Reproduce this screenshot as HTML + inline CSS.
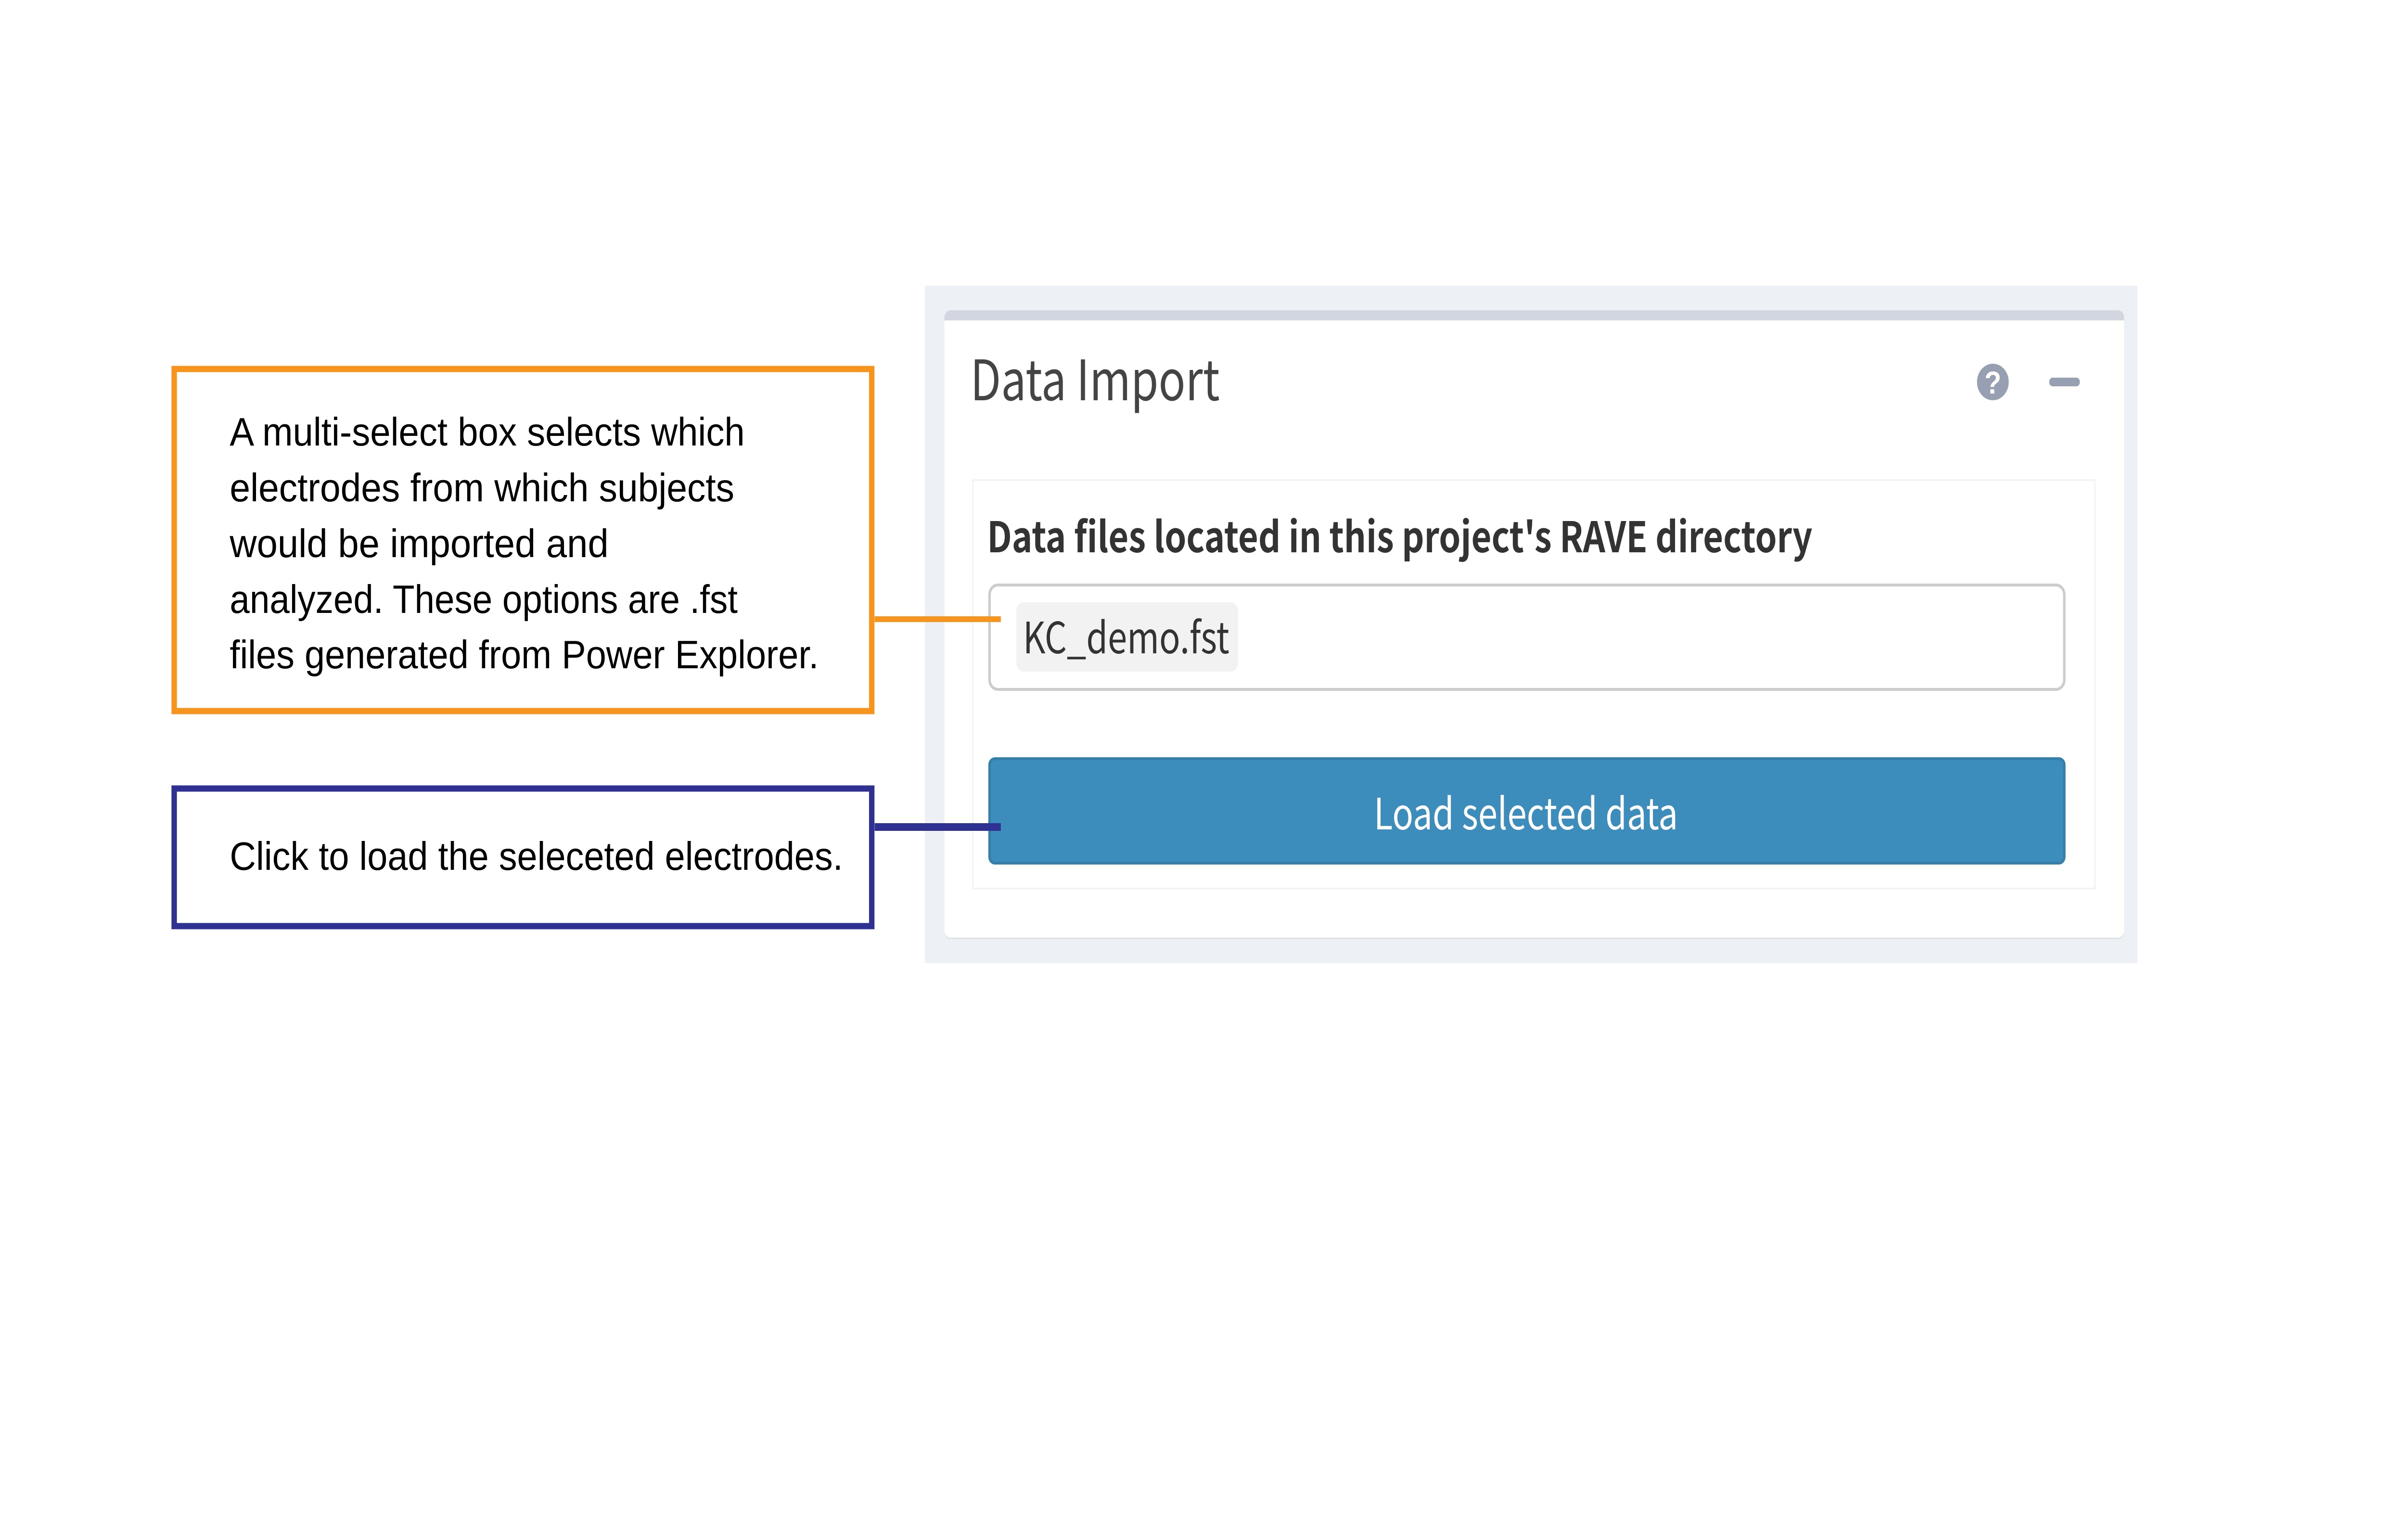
<!DOCTYPE html>
<html>
<head>
<meta charset="utf-8">
<style>
html,body{margin:0;padding:0;background:#fff;width:100vw;height:100vh;overflow:hidden}
svg{display:block;position:absolute;left:0;top:0;width:100vw;height:100vh}
.c{font-family:"Liberation Sans",sans-serif;font-size:83px;fill:#000}
.s{font-family:"Noto Sans CJK JP","Liberation Sans",sans-serif}
</style>
</head>
<body>
<svg xmlns="http://www.w3.org/2000/svg" viewBox="0 0 5760 3201" preserveAspectRatio="none">
<rect width="5760" height="3201" fill="#fff"/>

<!-- panel -->
<rect x="2214" y="594" width="2903" height="1408" fill="#edf1f6"/>
<rect x="2261" y="648" width="2824" height="1304" rx="14" fill="#dfe3e8"/>
<rect x="2261" y="645" width="2824" height="1304" rx="14" fill="#fff"/>
<path d="M2261 666V659a14 14 0 0 1 14-14H5071a14 14 0 0 1 14 14V666Z" fill="#d2d6de"/>

<text class="s" x="2323" y="832" font-size="116" fill="#444" textLength="597" lengthAdjust="spacingAndGlyphs">Data Import</text>

<!-- icons -->
<circle cx="4771" cy="794" r="38" fill="#97a0b3"/>
<text x="4771" y="818" font-family="Liberation Sans, sans-serif" font-weight="700" font-size="66" fill="#fff" text-anchor="middle">?</text>
<rect x="4906" y="785" width="73" height="18" rx="8" fill="#97a0b3"/>

<!-- inner box -->
<rect x="2329" y="998" width="2686" height="849" fill="#fff" stroke="#f4f4f4" stroke-width="4"/>
<text class="s" x="2363" y="1148" font-size="88" font-weight="700" fill="#333" textLength="1976" lengthAdjust="spacingAndGlyphs">Data files located in this project's RAVE directory</text>

<!-- select -->
<rect x="2369" y="1216" width="2573" height="217" rx="20" fill="#fff" stroke="#cccccc" stroke-width="6"/>
<rect x="2433" y="1252" width="531" height="144" rx="18" fill="#f2f2f2"/>
<text class="s" x="2449" y="1358" font-size="90" fill="#333" textLength="494" lengthAdjust="spacingAndGlyphs">KC_demo.fst</text>

<!-- button -->
<rect x="2369" y="1577" width="2573" height="217" rx="13" fill="#3c8dbc" stroke="#367fa9" stroke-width="6"/>
<text class="s" x="3289" y="1724" font-size="90" fill="#fff" textLength="728" lengthAdjust="spacingAndGlyphs">Load selected data</text>

<!-- connectors -->
<rect x="2094" y="1281" width="302" height="12" fill="#f7941d"/>
<rect x="2094" y="1711" width="302" height="16" fill="#2e3192"/>

<!-- orange box -->
<rect x="417" y="767" width="1670" height="711" fill="#fff" stroke="#f7941d" stroke-width="13"/>
<text class="c" x="550" y="926" textLength="1233" lengthAdjust="spacingAndGlyphs">A multi-select box selects which</text>
<text class="c" x="550" y="1042" textLength="1208" lengthAdjust="spacingAndGlyphs">electrodes from which subjects</text>
<text class="c" x="550" y="1158" textLength="907" lengthAdjust="spacingAndGlyphs">would be imported and</text>
<text class="c" x="550" y="1274" textLength="1216" lengthAdjust="spacingAndGlyphs">analyzed. These options are .fst</text>
<text class="c" x="550" y="1389" textLength="1410" lengthAdjust="spacingAndGlyphs">files generated from Power Explorer.</text>

<!-- navy box -->
<rect x="417" y="1639" width="1670" height="286" fill="#fff" stroke="#2e3192" stroke-width="13"/>
<text class="c" x="550" y="1808" textLength="1468" lengthAdjust="spacingAndGlyphs">Click to load the seleceted electrodes.</text>
</svg>
</body>
</html>
